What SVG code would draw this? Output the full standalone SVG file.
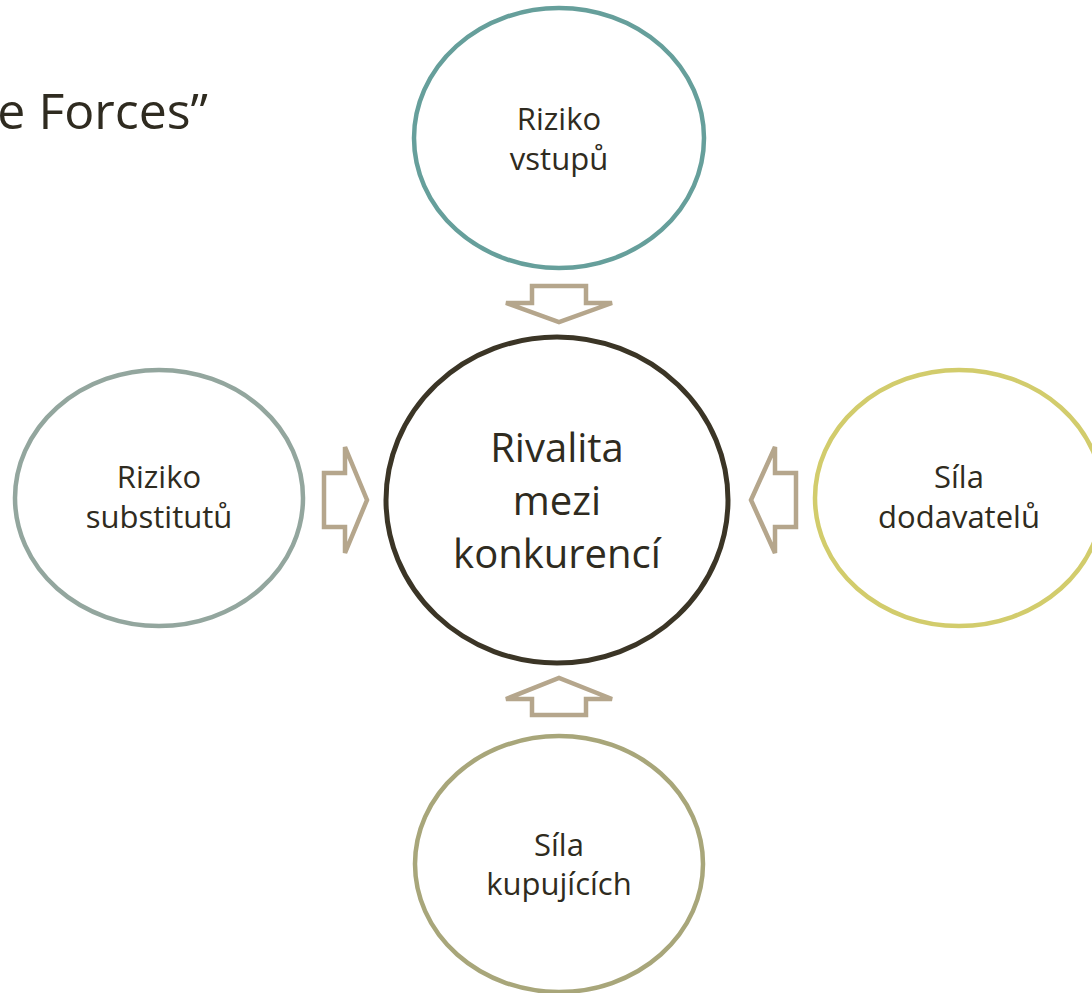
<svg xmlns="http://www.w3.org/2000/svg" width="1092" height="993" viewBox="0 0 1092 993">
<style>
text{font-family:"Open Sans","Noto Sans","Liberation Sans",sans-serif;fill:#2f2b20;text-anchor:middle}
.lbl{font-size:31px}
.big{font-size:40px}
.node{fill:#fff;stroke-width:4.5}
.arr{fill:#fff;stroke:#b5a68c;stroke-width:4.5;stroke-linejoin:miter}
</style>
<rect width="1092" height="993" fill="#fff"/>
<text x="208" y="129" style="font-size:50px;text-anchor:end">e Forces”</text>
<g id="connectors">
<path class="arr" d="M532,286 H586 V303 H612 L559,322 L506,303 H532 Z"/>
<path class="arr" d="M532,715 H586 V699 H612 L559,678 L506,699 H532 Z"/>
<path class="arr" d="M324,473 H345 V447 L367,500 L345,553 V527 H324 Z"/>
<path class="arr" d="M796,473 H775 V447 L751,500 L775,553 V527 H796 Z"/>
</g>
<g id="node-top">
<ellipse class="node" cx="559" cy="138" rx="145" ry="130" stroke="#669f9b"/>
<text class="lbl" x="559" y="130">Riziko</text>
<text class="lbl" x="559" y="170">vstupů</text>
</g>
<g id="node-center">
<ellipse class="node" cx="557" cy="500" rx="171" ry="163" stroke="#3b3526" style="stroke-width:5"/>
<text class="big" x="557" y="462">Rivalita</text>
<text class="big" x="557" y="515">mezi</text>
<text class="big" x="557" y="568">konkurencí</text>
</g>
<g id="node-left">
<ellipse class="node" cx="159" cy="498" rx="144" ry="128" stroke="#93a69e"/>
<text class="lbl" x="159" y="488">Riziko</text>
<text class="lbl" x="159" y="528">substitutů</text>
</g>
<g id="node-right">
<ellipse class="node" cx="959" cy="498" rx="144" ry="128" stroke="#d2cc6c"/>
<text class="lbl" x="959" y="488">Síla</text>
<text class="lbl" x="959" y="528">dodavatelů</text>
</g>
<g id="node-bottom">
<ellipse class="node" cx="559" cy="864" rx="144" ry="128" stroke="#a8a67a"/>
<text class="lbl" x="559" y="856">Síla</text>
<text class="lbl" x="559" y="895">kupujících</text>
</g>
</svg>
